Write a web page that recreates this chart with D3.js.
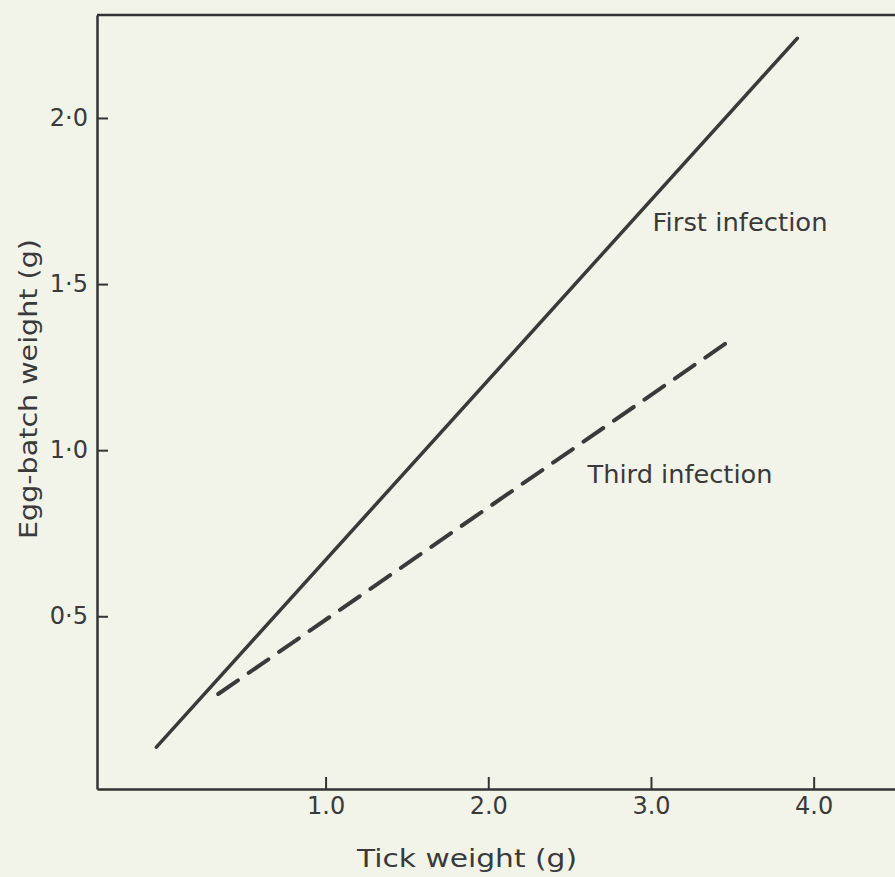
<!DOCTYPE html>
<html>
<head>
<meta charset="utf-8">
<script src="https://cdn.jsdelivr.net/npm/d3@7"></script>
<style>
  html, body { margin: 0; padding: 0; background: #f3f4e9; }
  svg { display: block; }
  text { font-family: "DejaVu Sans", sans-serif; fill: #3a3a3a; }
</style>
</head>
<body>
<script>
// Egg-batch weight vs tick weight

var firstX = [-0.04, 3.90];
var firstY = [0.106, 2.24];
var thirdX = [0.34, 3.50];
var thirdY = [0.266, 1.335];

var xTicks = [1.0, 2.0, 3.0, 4.0];
var xTickLabels = ['1.0', '2.0', '3.0', '4.0'];
var yTicks = [0.5, 1.0, 1.5, 2.0];
var yTickLabels = ['0·5', '1·0', '1·5', '2·0'];

var w = 895;
var h = 877;

var svg = d3.select('body')
	.append('svg')
	.attr('width', w)
	.attr('height', h);

var x = d3.scaleLinear().domain([-0.405, 4.5]).range([97, 895]);
var y = d3.scaleLinear().domain([-0.02, 2.31]).range([789, 15]);

// top frame line
svg.append('line')
	.attr('x1', x.range()[0]).attr('x2', x.range()[1])
	.attr('y1', y.range()[1]).attr('y2', y.range()[1])
	.attr('stroke', '#333').attr('stroke-width', 2.5);

// x axis (ticks point up)
var xAxis = svg.append('g')
	.attr('transform', 'translate(0,' + y.range()[0] + ')')
	.call(d3.axisBottom(x)
		.tickValues(xTicks)
		.tickFormat(function(d, i){ return xTickLabels[i]; })
		.tickSizeInner(-12)
		.tickSizeOuter(0)
		.tickPadding(8));

// y axis (ticks point right)
var yAxis = svg.append('g')
	.attr('transform', 'translate(' + x.range()[0] + ',0)')
	.call(d3.axisLeft(y)
		.tickValues(yTicks)
		.tickFormat(function(d, i){ return yTickLabels[i]; })
		.tickSizeInner(-11)
		.tickSizeOuter(0)
		.tickPadding(9));

[xAxis, yAxis].forEach(function(a){
	a.selectAll('.domain').attr('stroke', '#333').attr('stroke-width', 2.5);
	a.selectAll('.tick line').attr('stroke', '#333').attr('stroke-width', 2);
	a.selectAll('.tick text')
		.attr('font-family', '"DejaVu Sans", sans-serif')
		.attr('font-size', 24)
		.attr('fill', '#3a3a3a');
});

var line = d3.line()
	.x(function(d){ return x(d[0]); })
	.y(function(d){ return y(d[1]); });

// First infection (solid)
svg.append('path')
	.datum(d3.zip(firstX, firstY))
	.attr('d', line)
	.attr('fill', 'none')
	.attr('stroke', '#3a3a3a')
	.attr('stroke-width', 3.5)
	.attr('stroke-linecap', 'round');

// Third infection (dashed)
svg.append('path')
	.datum(d3.zip(thirdX, thirdY))
	.attr('d', line)
	.attr('fill', 'none')
	.attr('stroke', '#3a3a3a')
	.attr('stroke-width', 4)
	.attr('stroke-linecap', 'round')
	.attr('stroke-dasharray', '24 13');

// Series labels
svg.append('text')
	.attr('x', x(3.01))
	.attr('y', y(1.66))
	.attr('font-size', 24)
	.attr('textLength', 175)
	.attr('lengthAdjust', 'spacingAndGlyphs')
	.text('First infection');

svg.append('text')
	.attr('x', x(2.61))
	.attr('y', y(0.9))
	.attr('font-size', 24)
	.attr('textLength', 185)
	.attr('lengthAdjust', 'spacingAndGlyphs')
	.text('Third infection');

// Axis titles
svg.append('text')
	.attr('x', 467)
	.attr('y', 867)
	.attr('text-anchor', 'middle')
	.attr('font-size', 25)
	.attr('textLength', 220)
	.attr('lengthAdjust', 'spacingAndGlyphs')
	.text('Tick weight (g)');

svg.append('text')
	.attr('transform', 'translate(37,389) rotate(-90)')
	.attr('text-anchor', 'middle')
	.attr('font-size', 25)
	.attr('textLength', 300)
	.attr('lengthAdjust', 'spacingAndGlyphs')
	.text('Egg-batch weight (g)');
</script>
</body>
</html>
